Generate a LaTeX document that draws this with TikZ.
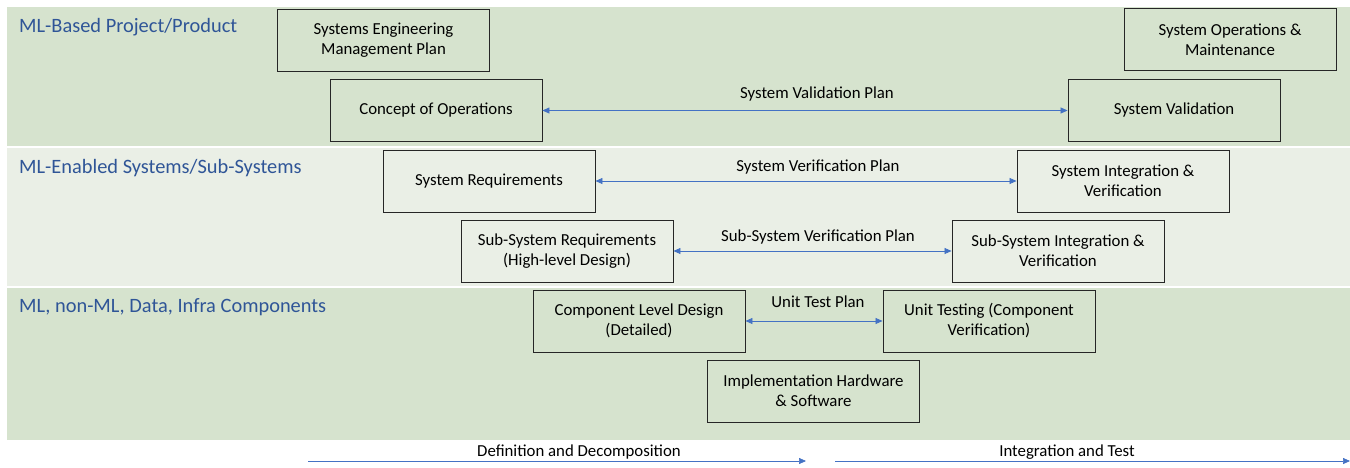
\documentclass[tikz,border=0pt]{standalone}
\usepackage{fontspec}
\setmainfont{Carlito}
\usetikzlibrary{positioning,arrows.meta,calc}
\definecolor{bandGreen}{HTML}{D6E3CE}
\definecolor{bandLight}{HTML}{EAEFE6}
\definecolor{msBlue}{HTML}{4472C4}
\definecolor{titleBlue}{HTML}{2F5597}

\begin{document}
\begin{tikzpicture}[x=1pt, y=-1pt]
    \fontsize{16.8}{20}\selectfont

    % Shapes
    \tikzstyle{phase}=[rectangle, draw=black!85, line width=0.9pt, minimum width=212pt, minimum height=62pt, inner sep=2pt, align=center]
    \tikzstyle{plan}=[{Triangle[length=7pt,width=6pt]}-{Triangle[length=7pt,width=6pt]}, msBlue, line width=0.7pt]
    \tikzstyle{flow}=[-{Triangle[length=7pt,width=6pt]}, msBlue, line width=0.7pt]
    \tikzstyle{planText}=[inner sep=0pt]
    \tikzstyle{bandTitle}=[anchor=west, inner sep=0pt, text=titleBlue, font=\fontsize{20.4}{24}\selectfont]

    \useasboundingbox (0,0) rectangle (1350,467);

    % Bands
    \fill[bandGreen] (7,7) rectangle (1350,146);
    \fill[bandLight] (7,148) rectangle (1350,286);
    \fill[bandGreen] (7,288) rectangle (1350,440);
    \node[bandTitle] at (19,27) (titleProject) {ML-Based Project/Product};
    \node[bandTitle] at (19,168) (titleSystems) {ML-Enabled Systems/Sub-Systems};
    \node[bandTitle] at (19,307) (titleComponents) {ML, non-ML, Data, Infra Components};

    % Left side of the V
    \node[phase] at (383.5,40) (semp) {Systems Engineering\\Management Plan};
    \node[phase] at (436,110.5) (conops) {Concept of Operations};
    \node[phase] at (489,181) (sysReq) {System Requirements};
    \node[phase] at (567,251) (subReq) {Sub-System Requirements\\(High-level Design)};
    \node[phase] at (639,321) (compDesign) {Component Level Design\\(Detailed)};

    % Bottom of the V
    \node[phase] at (813.5,391) (impl) {Implementation Hardware\\\& Software};

    % Right side of the V
    \node[phase] at (989,321) (unitTest) {Unit Testing (Component\\Verification)};
    \node[phase] at (1058,251) (subInt) {Sub-System Integration \&\\Verification};
    \node[phase] at (1123,181) (sysInt) {System Integration \&\\Verification};
    \node[phase] at (1174,110.5) (sysVal) {System Validation};
    \node[phase] at (1230,39.5) (sysOps) {System Operations \&\\Maintenance};

    % Plans
    \draw[plan] (conops) -- (sysVal);
    \draw[plan] (sysReq) -- (sysInt);
    \draw[plan] (subReq) -- (subInt);
    \draw[plan] (compDesign) -- (unitTest);
    \node[planText] at (817,94) (valPlan) {System Validation Plan};
    \node[planText] at (818,167) (verPlan) {System Verification Plan};
    \node[planText] at (818,237) (subVerPlan) {Sub-System Verification Plan};
    \node[planText] at (818,302) (unitPlan) {Unit Test Plan};

    % Direction arrows
    \coordinate (defStart) at (308,461);
    \coordinate (defEnd) at (806,461);
    \coordinate (intStart) at (835,461);
    \coordinate (intEnd) at (1350,461);
    \draw[flow] (defStart) -- (defEnd);
    \draw[flow] (intStart) -- (intEnd);
    \node[planText] at (579,452) (defText) {Definition and Decomposition};
    \node[planText] at (1067,452) (intText) {Integration and Test};
\end{tikzpicture}
\end{document}
